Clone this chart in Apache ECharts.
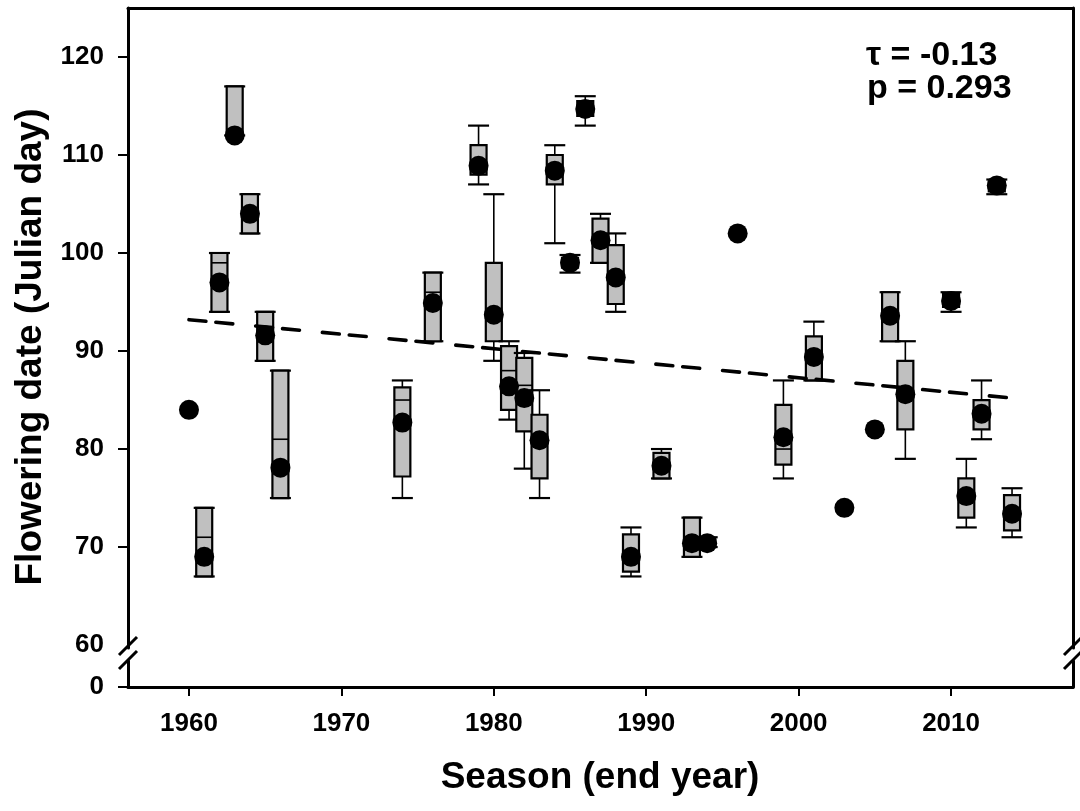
<!DOCTYPE html>
<html>
<head>
<meta charset="utf-8">
<script src="https://cdn.jsdelivr.net/npm/echarts@6/dist/echarts.min.js"></script>
<style>
  html, body { margin: 0; padding: 0; background: #fff; }
  #chart { width: 1080px; height: 811px; }
</style>
</head>
<body>
<div id="chart"></div>
<script>
// seasons (end year) and the mean flowering date of each
const years = [1960, 1961, 1962, 1963, 1964, 1965, 1966, 1974, 1976, 1979, 1980, 1981, 1982, 1983, 1984, 1985, 1986, 1987,
  1988, 1989, 1991, 1993, 1994, 1996, 1999, 2001, 2003, 2005, 2006, 2007, 2010, 2011, 2012, 2013, 2014]
const means = [84, 69, 97, 112, 104, 91.6, 78.1, 82.7, 94.9, 108.9, 93.7, 86.4, 85.2, 80.9, 108.4, 99, 114.7, 101.3,
  97.5, 69, 78.3, 70.4, 70.4, 102, 81.2, 89.4, 74, 82, 93.6, 85.6, 95.1, 75.2, 83.6, 106.9, 73.4]

// box plot values (null = single record, no box)
const whiskerLow = [null, 67, 94, 112, 102, 89, 75, 75, 91, 107, 89, 83, 78, 75, 101, 98, 113, 99,
  94, 67, 77, 69, 70, null, 77, 87, null, null, 91, 79, 94, 72, 81, 106, 71]
const q1 = [null, 67, 94, 112, 102, 89, 75, 77.2, 91, 108, 91, 84, 81.8, 77, 107, 98.5, 114, 99,
  94.8, 67.5, 77, 69, 70, null, 78.4, 87, null, null, 91, 82, 94.5, 73, 82, 106.3, 71.7]
const median = [null, 71, 99, 112.5, 104, 91.5, 81, 85, 96, 109, 93.7, 88, 86.5, 81, 108.5, 99, 114.7, 101,
  97.5, 69, 78.3, 70.5, 70.4, null, 80, 89.4, null, null, 93.6, 85.6, 95, 75.2, 83.6, 107, 73.4]
const q3 = [null, 74, 100, 117, 106, 94, 88, 86.3, 98, 111, 99, 90.5, 89.3, 83.5, 110, 99.5, 115.5, 103.5,
  100.8, 71.3, 79.6, 73, 70.8, null, 84.5, 91.5, null, null, 96, 89, 95.8, 77, 85, 107.3, 75.3]
const whiskerHigh = [null, 74, 100, 117, 106, 94, 88, 87, 98, 113, 106, 91, 89.8, 86, 111, 99.8, 116, 104,
  102, 72, 80, 73, 71, null, 87, 93, null, null, 96, 91, 96, 79, 87, 107.5, 76]

// regression line end points
const trendX = [1960, 2014]
const trendY = [93.2, 85.2]

const xTicks = [1960, 1970, 1980, 1990, 2000, 2010]
const yTicks = [60, 70, 80, 90, 100, 110, 120]

const FONT = "'Liberation Sans', Arial, sans-serif"

const boxData = []
years.forEach((yr, i) => {
  if (q1[i] === null) return
  boxData.push([yr, whiskerLow[i], q1[i], median[i], q3[i], whiskerHigh[i]])
})

const renderBox = (params, api) => {
  const x = api.value(0)
  const lo = api.coord([x, api.value(1)])
  const b1 = api.coord([x, api.value(2)])
  const md = api.coord([x, api.value(3)])
  const b3 = api.coord([x, api.value(4)])
  const hi = api.coord([x, api.value(5)])
  const cx = lo[0]
  const bw = 16
  const cw = 21
  const thin = { stroke: '#000', lineWidth: 1.6 }
  const cap = { stroke: '#000', lineWidth: 2.2 }
  return {
    type: 'group',
    children: [
      { type: 'line', shape: { x1: cx, y1: hi[1], x2: cx, y2: b3[1] }, style: thin },
      { type: 'line', shape: { x1: cx, y1: b1[1], x2: cx, y2: lo[1] }, style: thin },
      { type: 'line', shape: { x1: cx - cw / 2, y1: hi[1], x2: cx + cw / 2, y2: hi[1] }, style: cap },
      { type: 'line', shape: { x1: cx - cw / 2, y1: lo[1], x2: cx + cw / 2, y2: lo[1] }, style: cap },
      {
        type: 'rect',
        shape: { x: cx - bw / 2, y: b3[1], width: bw, height: b1[1] - b3[1] },
        style: { fill: '#c0c0c0', stroke: '#000', lineWidth: 2.2 }
      },
      { type: 'line', shape: { x1: cx - bw / 2, y1: md[1], x2: cx + bw / 2, y2: md[1] }, style: thin }
    ]
  }
}

const lineOnly = { show: true, onZero: false, lineStyle: { color: '#000', width: 3 } }
const noTick = { show: false }
const noLabel = { show: false }
const noSplit = { show: false }
const tickFont = { color: '#000', fontFamily: FONT, fontWeight: 'bold', fontSize: 26 }

const chart = echarts.init(document.getElementById('chart'), null, { renderer: 'canvas' })

chart.setOption({
  animation: false,
  backgroundColor: '#fff',
  grid: [
    { left: 128, right: 7, top: 8, height: 640 },
    { left: 128, right: 7, top: 661, height: 26 }
  ],
  xAxis: [
    { gridIndex: 0, type: 'value', min: 1956, max: 2018, show: false },
    {
      gridIndex: 0, type: 'value', min: 1956, max: 2018, position: 'top',
      axisLine: lineOnly, axisTick: noTick, axisLabel: noLabel, splitLine: noSplit
    },
    {
      gridIndex: 1, type: 'value', min: 1956, max: 2018, position: 'bottom',
      axisLine: lineOnly,
      axisTick: { show: true, customValues: xTicks, length: 9, lineStyle: { color: '#000', width: 2 } },
      axisLabel: Object.assign({ customValues: xTicks, margin: 24, formatter: v => String(v) }, tickFont),
      splitLine: noSplit
    }
  ],
  yAxis: [
    {
      gridIndex: 0, type: 'value', min: 59.7, max: 125, position: 'left',
      axisLine: lineOnly,
      axisTick: { show: true, customValues: yTicks.slice(1), length: 10, lineStyle: { color: '#000', width: 2 } },
      axisLabel: Object.assign({ customValues: yTicks, margin: 24 }, tickFont),
      splitLine: noSplit
    },
    {
      gridIndex: 0, type: 'value', min: 59.7, max: 125, position: 'right',
      axisLine: lineOnly, axisTick: noTick, axisLabel: noLabel, splitLine: noSplit
    },
    {
      gridIndex: 1, type: 'value', min: 0, max: 1, position: 'left',
      axisLine: lineOnly,
      axisTick: { show: true, customValues: [0], length: 10, lineStyle: { color: '#000', width: 2 } },
      axisLabel: Object.assign({ customValues: [0], margin: 24 }, tickFont),
      splitLine: noSplit
    },
    {
      gridIndex: 1, type: 'value', min: 0, max: 1, position: 'right',
      axisLine: lineOnly, axisTick: noTick, axisLabel: noLabel, splitLine: noSplit
    }
  ],
  series: [
    {
      type: 'custom',
      xAxisIndex: 0,
      yAxisIndex: 0,
      renderItem: renderBox,
      encode: { x: 0, y: [1, 2, 3, 4, 5] },
      data: boxData,
      z: 2
    },
    {
      type: 'line',
      xAxisIndex: 0,
      yAxisIndex: 0,
      data: trendX.map((x, i) => [x, trendY[i]]),
      showSymbol: false,
      symbol: 'none',
      lineStyle: { color: '#000', width: 3.6, type: [17, 10, 17, 23], cap: 'round' },
      z: 3
    },
    {
      type: 'scatter',
      xAxisIndex: 0,
      yAxisIndex: 0,
      data: years.map((x, i) => [x, means[i]]),
      symbol: 'circle',
      symbolSize: 20,
      itemStyle: { color: '#000', opacity: 1 },
      z: 4
    }
  ],
  graphic: [
    // axis break marks
    { type: 'line', shape: { x1: 119, y1: 655, x2: 137, y2: 637 }, style: { stroke: '#000', lineWidth: 3 } },
    { type: 'line', shape: { x1: 119, y1: 669, x2: 137, y2: 651 }, style: { stroke: '#000', lineWidth: 3 } },
    { type: 'line', shape: { x1: 1064, y1: 655, x2: 1082, y2: 637 }, style: { stroke: '#000', lineWidth: 3 } },
    { type: 'line', shape: { x1: 1064, y1: 669, x2: 1082, y2: 651 }, style: { stroke: '#000', lineWidth: 3 } },
    {
      type: 'text', x: 31, y: 347, rotation: Math.PI / 2,
      style: {
        text: 'Flowering date (Julian day)', fill: '#000', font: 'bold 37px ' + FONT,
        textAlign: 'center', textVerticalAlign: 'middle'
      }
    },
    {
      type: 'text', x: 600, y: 778,
      style: {
        text: 'Season (end year)', fill: '#000', font: 'bold 37px ' + FONT,
        textAlign: 'center', textVerticalAlign: 'middle'
      }
    },
    {
      type: 'text', x: 866, y: 56,
      style: { text: 'τ = -0.13', fill: '#000', font: 'bold 34px ' + FONT, textAlign: 'left', textVerticalAlign: 'middle' }
    },
    {
      type: 'text', x: 867, y: 89,
      style: { text: 'p = 0.293', fill: '#000', font: 'bold 34px ' + FONT, textAlign: 'left', textVerticalAlign: 'middle' }
    }
  ]
})
</script>
</body>
</html>
